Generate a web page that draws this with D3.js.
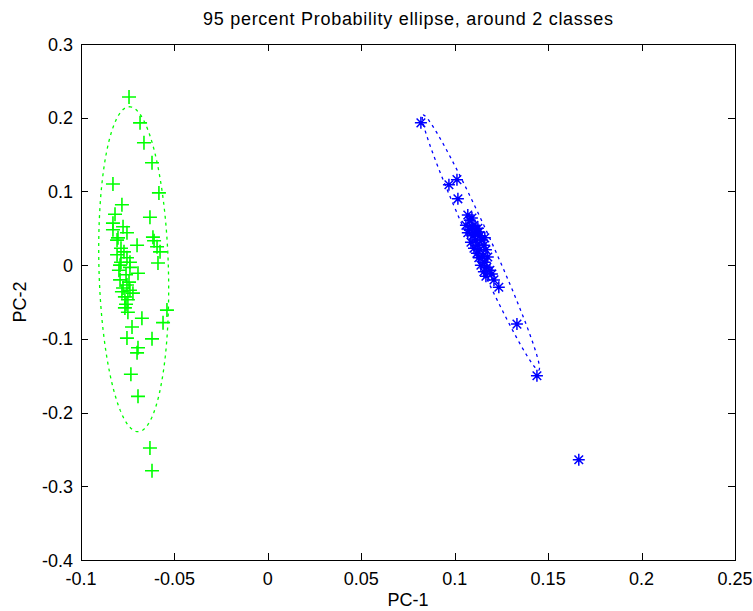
<!DOCTYPE html>
<html><head><meta charset="utf-8">
<script src="https://cdn.jsdelivr.net/npm/d3@7"></script>
<style>body{margin:0;background:#fff} text{font-family:"Liberation Sans",Arial,sans-serif;fill:#000}</style>
</head><body><svg id="c" width="753" height="611"></svg>
<script>
const title = "95 percent Probability ellipse, around 2 classes";
const xLabel = "PC-1", yLabel = "PC-2";
const xTicks = [-0.1,-0.05,0,0.05,0.1,0.15,0.2,0.25];
const xTickLabels = ["-0.1","-0.05","0","0.05","0.1","0.15","0.2","0.25"];
const yTicks = [-0.4,-0.3,-0.2,-0.1,0,0.1,0.2,0.3];
const yTickLabels = ["-0.4","-0.3","-0.2","-0.1","0","0.1","0.2","0.3"];

const greenX = [-0.0743,-0.0684,-0.0663,-0.0620,-0.0583,-0.0829,-0.0781,-0.0818,-0.0631,-0.0829,-0.0775,-0.0754,-0.0615,-0.0829,-0.0807,-0.0609,-0.0700,-0.0593,-0.0577,-0.0588,-0.0807,-0.0754,-0.0738,-0.0791,-0.0738,-0.0695,-0.0791,-0.0754,-0.0775,-0.0722,-0.0765,-0.0749,-0.0765,-0.0749,-0.0674,-0.0540,-0.0561,-0.0727,-0.0754,-0.0620,-0.0695,-0.0700,-0.0733,-0.0695,-0.0631,-0.0620,-0.0802,-0.0786,-0.0770,-0.0797,-0.0759,-0.0781,-0.0738,-0.0759,-0.0786,-0.0743];
const greenY = [0.228,0.193,0.166,0.139,0.098,0.110,0.082,0.069,0.065,0.057,0.052,0.044,0.038,0.048,0.034,0.033,0.027,0.025,0.018,0.003,0.014,0.010,0.004,0.000,-0.003,-0.011,-0.020,-0.027,-0.031,-0.038,-0.043,-0.047,-0.058,-0.064,-0.072,-0.061,-0.078,-0.084,-0.099,-0.100,-0.112,-0.119,-0.148,-0.178,-0.248,-0.279,0.037,0.023,0.018,-0.007,-0.013,-0.036,-0.034,-0.053,0.004,-0.023];

const blueX = [0.0819,0.0969,0.1012,0.1017,0.1070,0.1081,0.1092,0.1060,0.1103,0.1092,0.1081,0.1113,0.1124,0.1070,0.1108,0.1097,0.1135,0.1129,0.1161,0.1113,0.1145,0.1087,0.1124,0.1156,0.1103,0.1135,0.1167,0.1119,0.1151,0.1177,0.1129,0.1161,0.1140,0.1172,0.1188,0.1156,0.1199,0.1167,0.1210,0.1236,0.1333,0.1440,0.1664];
const blueY = [0.193,0.109,0.116,0.090,0.068,0.061,0.064,0.054,0.054,0.052,0.048,0.048,0.050,0.044,0.042,0.040,0.040,0.045,0.037,0.034,0.034,0.031,0.027,0.027,0.023,0.021,0.021,0.016,0.012,0.011,0.010,0.004,0.000,-0.003,-0.007,-0.009,-0.012,-0.015,-0.020,-0.030,-0.080,-0.150,-0.264];

// ellipse: center, major half-axis vector, minor half-axis vector (data units)
const greenEllipseCenter = [-0.0718,-0.0055];
const greenEllipseMajor = [-0.0024,0.2204];
const greenEllipseMinor = [0.01857,0.0013];
const blueEllipseCenter = [0.1140,0.0307];
const blueEllipseMajor = [-0.0310,0.1730];
const blueEllipseMinor = [0.00480,0.00560];

const L=81,R=735,T=44,B=560;
const svg = d3.select("#c");
const x = d3.scaleLinear().domain([-0.1,0.25]).range([L,R]);
const y = d3.scaleLinear().domain([-0.4,0.3]).range([B,T]);

// axes box
svg.append("rect").attr("x",L+0.5).attr("y",T+0.5).attr("width",R-L).attr("height",B-T)
  .attr("fill","none").attr("stroke","#000").attr("stroke-width",1);

const tl = 7;
const g = svg.append("g").attr("stroke","#000").attr("stroke-width",1);
xTicks.forEach(v=>{
  const px = Math.round(x(v))+0.5;
  g.append("line").attr("x1",px).attr("x2",px).attr("y1",B).attr("y2",B-tl);
  g.append("line").attr("x1",px).attr("x2",px).attr("y1",T).attr("y2",T+tl);
});
yTicks.forEach(v=>{
  const py = Math.round(y(v))+0.5;
  g.append("line").attr("y1",py).attr("y2",py).attr("x1",L).attr("x2",L+tl);
  g.append("line").attr("y1",py).attr("y2",py).attr("x1",R).attr("x2",R-tl);
});
xTicks.forEach((v,i)=>{
  svg.append("text").attr("x",x(v)).attr("y",585).attr("text-anchor","middle")
    .attr("font-size",18).text(xTickLabels[i]);
});
yTicks.forEach((v,i)=>{
  svg.append("text").attr("x",73).attr("y",y(v)+6.5).attr("text-anchor","end")
    .attr("font-size",18).text(yTickLabels[i]);
});
svg.append("text").attr("x",(L+R)/2).attr("y",25).attr("text-anchor","middle")
  .attr("font-size",18).attr("textLength",410).attr("lengthAdjust","spacing").text(title);
svg.append("text").attr("x",(L+R)/2).attr("y",606).attr("text-anchor","middle")
  .attr("font-size",18).text(xLabel);
svg.append("text").attr("transform","translate(26,302) rotate(-90)").attr("text-anchor","middle")
  .attr("font-size",18).text(yLabel);

// ellipses
function ellipsePts(c,a,b){
  return d3.range(0,361,2).map(d=>{
    const t=d*Math.PI/180;
    return [c[0]+a[0]*Math.cos(t)+b[0]*Math.sin(t), c[1]+a[1]*Math.cos(t)+b[1]*Math.sin(t)];
  });
}
const line = d3.line().x(d=>x(d[0])).y(d=>y(d[1]));
svg.append("path").attr("d",line(ellipsePts(greenEllipseCenter,greenEllipseMajor,greenEllipseMinor)))
  .attr("fill","none").attr("stroke","#00ff00").attr("stroke-width",1.3).attr("stroke-dasharray","3,4");
svg.append("path").attr("d",line(ellipsePts(blueEllipseCenter,blueEllipseMajor,blueEllipseMinor)))
  .attr("fill","none").attr("stroke","#0000ff").attr("stroke-width",1.3).attr("stroke-dasharray","3,4");

// markers
const plus = "M-7,0H7M0,-7V7";
const star = "M-6,0H6M0,-6V6M-4.3,-4.3L4.3,4.3M-4.3,4.3L4.3,-4.3";
svg.append("g").selectAll("path").data(greenX.map((v,i)=>[v,greenY[i]])).join("path")
  .attr("transform",d=>`translate(${x(d[0])},${y(d[1])})`).attr("d",plus)
  .attr("fill","none").attr("stroke","#00ff00").attr("stroke-width",1.6);
svg.append("g").selectAll("path").data(blueX.map((v,i)=>[v,blueY[i]])).join("path")
  .attr("transform",d=>`translate(${x(d[0])},${y(d[1])})`).attr("d",star)
  .attr("fill","none").attr("stroke","#0000ff").attr("stroke-width",1.5);
</script></body></html>
